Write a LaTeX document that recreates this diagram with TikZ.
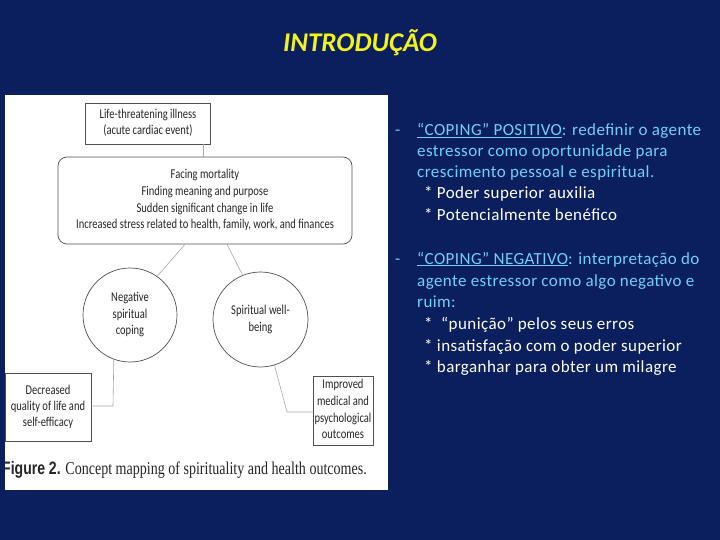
\documentclass[tikz,border=0pt]{standalone}
\usepackage{fontspec}
\usepackage{graphicx}
\setmainfont{Carlito}
\newfontfamily\capfont{Liberation Serif}
\newfontfamily\capbold{Liberation Sans}
\newfontfamily\widefont[LetterSpace=2.5]{Carlito}
\newcommand{\hsq}[1]{\scalebox{0.78}[1]{\begin{tabular}{@{}c@{}}#1\end{tabular}}}
\definecolor{bgnavy}{HTML}{0B1F5E}
\definecolor{ltblue}{HTML}{6FD0F6}
\definecolor{titleyel}{HTML}{F2F21C}
\definecolor{boxline}{HTML}{505050}
\definecolor{conn}{HTML}{A8A8A8}
\tikzset{
  sq/.style={draw=boxline, line width=0.7pt, align=center, inner sep=0pt, font=\fontsize{13.5}{16.5}\selectfont, text=black!85},
  circ/.style={draw=boxline, line width=0.7pt, circle, align=center, inner sep=0pt, font=\fontsize{13.5}{16.5}\selectfont, text=black!85},
  cn/.style={draw=conn, line width=0.6pt},
  rt/.style={anchor=base west, inner sep=0pt, font=\widefont\fontsize{17}{19}\selectfont},
}
\begin{document}
\begin{tikzpicture}[x=1pt,y=-1pt]
\fill[bgnavy] (0,0) rectangle (720,540);
\useasboundingbox (0,0) rectangle (720,540);
% title
\node[text=titleyel, font=\fontsize{27}{30}\selectfont\bfseries\itshape] (title) at (360,43) {INTRODUÇÃO};
% white panel
\fill[white] (5,95) rectangle (388,490);
% diagram
\node[sq, minimum width=125pt, minimum height=41pt, font=\fontsize{13.5}{16}\selectfont] (ill) at (148,123.5) {\hsq{Life-threatening illness\\(acute cardiac event)}};
\node[sq, rounded corners=9pt, minimum width=294pt, minimum height=87pt, font=\fontsize{13.5}{16.7}\selectfont] (face) at (205,200.5) {\hsq{Facing mortality\\Finding meaning and purpose\\Sudden significant change in life\\Increased stress related to health, family, work, and finances}};
\node[circ, minimum size=94pt] (neg) at (130,315) {\hsq{Negative\\spiritual\\coping}};
\node[circ, minimum size=95pt] (well) at (260.5,319.5) {\hsq{Spiritual well-\\being}};
\node[sq, minimum width=86pt, minimum height=68pt, font=\fontsize{13.5}{16}\selectfont] (dec) at (48,407) {\hsq{Decreased\\quality of life and\\self-efficacy}};
\node[sq, minimum width=60pt, minimum height=69pt, font=\fontsize{13.5}{16.7}\selectfont] (imp) at (343,410.5) {\hsq{Improved\\medical and\\psychological\\outcomes}};
\draw[cn] (ill.south -| 203,0) -- (face.north -| 203,0);
\draw[cn] (face.south -| 185,0) -- (neg.55);
\draw[cn] (face.south -| 227,0) -- (well.112);
\coordinate (negb) at (113,406);
\draw[cn] (neg.250) -- (negb) -- (dec.east |- negb);
\coordinate (wellb) at (287,412);
\draw[cn] (well.287) -- (wellb) -- (imp.west |- wellb);
\begin{scope}
\clip (5,95) rectangle (388,490);
\node[anchor=base west, inner sep=0pt, font=\capfont\fontsize{18}{20}\selectfont, text=black!85] (cap) at (2,474) {\scalebox{0.78}[1]{{\capbold\bfseries Figure 2.} Concept mapping of spirituality and health outcomes.}};
\end{scope}
% right text
\node[rt, text=ltblue] (d1) at (395,136) {-};
\node[rt, text=ltblue] (p1) at (417,136) {\underline{“COPING” POSITIVO}: redefinir o agente};
\node[rt, text=ltblue] (p2) at (417,157) {estressor como oportunidade para};
\node[rt, text=ltblue] (p3) at (417,178) {crescimento pessoal e espiritual.};
\node[rt, text=white] (p4) at (424,199) {* Poder superior auxilia};
\node[rt, text=white] (p5) at (424,221) {* Potencialmente benéfico};
\node[rt, text=ltblue] (d2) at (395,264) {-};
\node[rt, text=ltblue] (n1) at (417,264) {\underline{“COPING” NEGATIVO}: interpretação do};
\node[rt, text=ltblue] (n2) at (417,286) {agente estressor como algo negativo e};
\node[rt, text=ltblue] (n3) at (417,307) {ruim:};
\node[rt, text=white] (n4) at (424,329) {*\ \ “punição” pelos seus erros};
\node[rt, text=white] (n5) at (424,351) {* insatisfação com o poder superior};
\node[rt, text=white] (n6) at (424,372) {* barganhar para obter um milagre};
\end{tikzpicture}
\end{document}
